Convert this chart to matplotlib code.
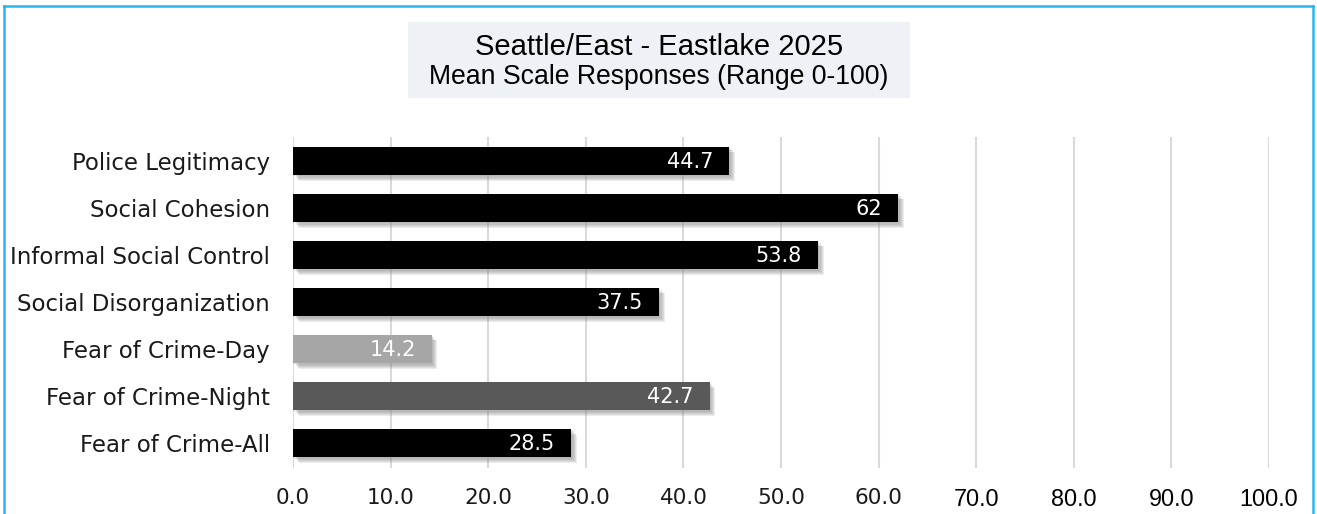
import matplotlib.pyplot as plt
import matplotlib.patheffects as pe
from matplotlib.patches import Rectangle
from matplotlib.lines import Line2D

# Dati
categories = ["Police Legitimacy", "Social Cohesion", "Informal Social Control",
              "Social Disorganization", "Fear of Crime-Day", "Fear of Crime-Night",
              "Fear of Crime-All"]
values = [44.7, 62, 53.8, 37.5, 14.2, 42.7, 28.5]
bar_colors = ["#000000", "#000000", "#000000", "#000000", "#a6a6a6", "#595959", "#000000"]
xticks = [0, 10, 20, 30, 40, 50, 60, 70, 80, 90, 100]
title_line1 = "Seattle/East - Eastlake 2025"
title_line2 = "Mean Scale Responses (Range 0-100)"

W, H = 1317, 514
fig = plt.figure(figsize=(W / 100, H / 100), dpi=100)
ax = fig.add_axes([293 / W, 1 - 468 / H, (1269 - 293) / W, (468 - 137) / H])

# ombra sfumata (alcuni strati leggeri)
shadow = [pe.SimplePatchShadow(offset=(o, -o), shadow_rgbFace="#7f7f7f", alpha=0.14)
          for o in (1.0, 1.8, 2.6, 3.4, 4.0)] + [pe.Normal()]

y = list(range(len(categories)))
bars = ax.barh(y, values, height=0.6, color=bar_colors, zorder=3)
for b in bars:
    b.set_path_effects(shadow)

for yi, v in zip(y, values):
    ax.annotate(f"{v:g}", xy=(v, yi), xytext=(-11.5, -1), textcoords="offset points",
                ha="right", va="center", color="white", fontsize=15,
                family="DejaVu Sans", zorder=4)

ax.set_xlim(0, 100)
ax.set_ylim(len(categories) - 0.47, -0.51)
ax.set_xticks(xticks)
ax.set_xticklabels([f"{t:.1f}" for t in xticks])
ax.set_yticks(y)
ax.set_yticklabels(categories, fontsize=16.5, family="DejaVu Sans", color="#1a1a1a")
ax.tick_params(axis="both", length=0)
ax.tick_params(axis="y", pad=16.5)
ax.tick_params(axis="x", pad=14.5)

for lbl, t in zip(ax.get_xticklabels(), xticks):
    if t <= 60:
        lbl.set_fontfamily("DejaVu Sans")
        lbl.set_fontsize(15.5)
        lbl.set_color("#1a1a1a")
    else:
        lbl.set_fontfamily("Liberation Sans")
        lbl.set_fontsize(16.8)
        lbl.set_color("#000000")

ax.grid(axis="x", color="#d9d9d9", linewidth=1.5, zorder=0)
for s in ax.spines.values():
    s.set_visible(False)

# riquadro del titolo
fig.patches.append(Rectangle((408 / W, 1 - 98 / H), (910 - 408) / W, (98 - 22) / H,
                             transform=fig.transFigure, facecolor="#eef1f5",
                             edgecolor="none", zorder=0))
fig.text(659 / W, 1 - 46.7 / H, title_line1, ha="center", va="center",
         fontsize=21, family="Liberation Sans")
fig.text(659 / W, 1 - 77.5 / H, title_line2, ha="center", va="center",
         fontsize=19.2, family="Liberation Sans")

# bordo azzurro
bc = "#29b5f0"
for xs, ys in [((4, 4), (0, 6)), ((4, 1313), (6, 6)), ((1313, 1313), (6, 0))]:
    fig.add_artist(Line2D([x / W for x in xs], [1 - yy / H if yy else 0 for yy in ys],
                          color=bc, linewidth=1.8, transform=fig.transFigure))

fig.savefig("out.png", dpi=100)
